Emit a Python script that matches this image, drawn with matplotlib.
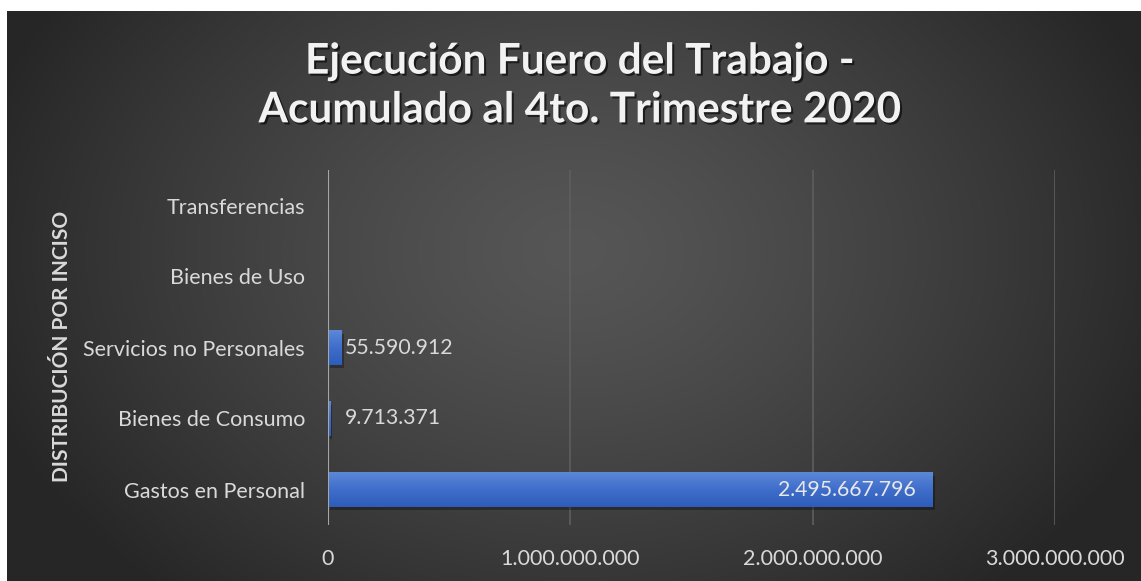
import numpy as np
import matplotlib
matplotlib.use("Agg")
import matplotlib.pyplot as plt
import matplotlib.patheffects as pe
from matplotlib.ticker import FuncFormatter
from matplotlib.colors import LinearSegmentedColormap

categories = ["Gastos en Personal", "Bienes de Consumo", "Servicios no Personales",
              "Bienes de Uso", "Transferencias"]
values = [2495667796, 9713371, 55590912, 0, 0]
xticks = [0, 1000000000, 2000000000, 3000000000]
title = "Ejecución Fuero del Trabajo -\nAcumulado al 4to. Trimestre 2020"
ylabel = "DISTRIBUCIÓN POR INCISO"

FONT = ["Lato", "DejaVu Sans"]
TXT = "#d9d9d9"

def fmt(v):
    return f"{int(round(v)):,}".replace(",", ".")

W, H = 1141, 581
fig = plt.figure(figsize=(W / 100, H / 100), dpi=100)
fig.patch.set_facecolor("white")

# background with radial gradient
bg = fig.add_axes([7 / W, 0, (W - 7) / W, (H - 11) / H])
bg.set_axis_off()
ny, nx = 300, 600
yy, xx = np.mgrid[0:ny, 0:nx]
cx, cy = nx * 0.5, ny * 0.42
r = np.sqrt(((xx - cx) / (nx * 0.55)) ** 2 + ((yy - cy) / (ny * 0.8)) ** 2)
r = np.clip(r, 0, 1)
c0 = np.array([0x56, 0x56, 0x56]) / 255
c1 = np.array([0x26, 0x26, 0x26]) / 255
t = r[..., None] ** 1.3
img = c0[None, None, :] * (1 - t) + c1[None, None, :] * t
bg.imshow(img, aspect="auto", extent=[0, 1, 0, 1], origin="upper")
bg.set_xlim(0, 1)
bg.set_ylim(0, 1)

ax = fig.add_axes([328 / W, (H - 525) / H, (1055 - 328) / W, 355 / H])
ax.patch.set_alpha(0)
y = np.arange(len(categories))
bars = ax.barh(y, values, height=0.48, color="#4472c4", zorder=3,
               path_effects=[pe.SimplePatchShadow(offset=(1.5, -2.5), shadow_rgbFace="black", alpha=0.3), pe.Normal()])

# gradient fill on bars (lighter on top)
grad = np.linspace(0, 1, 50)[:, None]
cmap = LinearSegmentedColormap.from_list("b", ["#5c88d8", "#3f6dca", "#2e5cbb"])
for b in bars:
    if b.get_width() <= 0:
        continue
    x0, y0 = b.get_x(), b.get_y()
    w, h = b.get_width(), b.get_height()
    im = ax.imshow(grad, cmap=cmap, aspect="auto", extent=[x0, x0 + w, y0, y0 + h],
                   origin="upper", zorder=4)
    im.set_clip_path(b)

XMAX = 3000000000
ax.set_xlim(0, XMAX)
ax.set_ylim(-0.5, len(categories) - 0.5)
ax.set_xticks(xticks)
ax.xaxis.set_major_formatter(FuncFormatter(lambda v, p: fmt(v)))
ax.set_yticks(y)
ax.set_yticklabels(categories)
for s in ["top", "right", "bottom", "left"]:
    ax.spines[s].set_visible(False)
ax.grid(axis="x", color="#5e5e5e", linewidth=1.2, zorder=0)
ax.axvline(0, color="#a6a6a6", linewidth=1.5, zorder=5)
ax.tick_params(axis="x", length=0, pad=17, labelcolor=TXT, labelsize=15.5)
ax.tick_params(axis="y", length=0, pad=16.5, labelcolor=TXT, labelsize=15.5)
for lab in ax.get_xticklabels() + ax.get_yticklabels():
    lab.set_family(FONT)

for b, v in zip(bars, values):
    if v <= 0:
        continue
    cyv = b.get_y() + b.get_height() / 2
    if v > 1e9:
        ax.annotate(fmt(v), (v, cyv), xytext=(-12, 0), textcoords="offset points",
                    ha="right", va="center", color="#e8e8e8", fontsize=15.3,
                    family=FONT, zorder=6)
    else:
        anchor = max(v, 0.018 * XMAX)
        ax.annotate(fmt(v), (anchor, cyv), xytext=(2.5, 0), textcoords="offset points",
                    ha="left", va="center", color=TXT, fontsize=15.3,
                    family=FONT, zorder=6)

fig.text(62 / W, 1 - 346 / H, ylabel, rotation=90, ha="center", va="center",
         color=TXT, fontsize=15, fontweight="bold", family=FONT)

fig.text(580 / W, 1 - 86 / H, title, ha="center", va="center", color="#f2f2f2",
         fontsize=30.5, fontweight="bold", family=FONT, linespacing=1.33,
         path_effects=[pe.withSimplePatchShadow(offset=(1.5, -1.5), shadow_rgbFace="black", alpha=0.6)])

fig.savefig("out.png", dpi=100, facecolor=fig.get_facecolor())
